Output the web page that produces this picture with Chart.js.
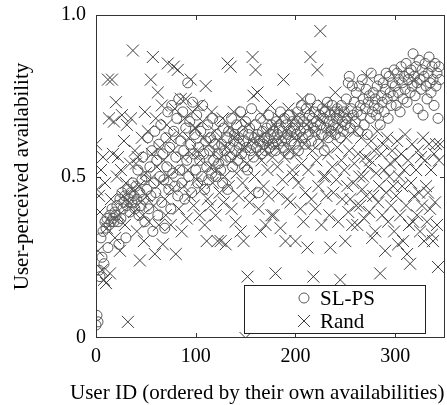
<!DOCTYPE html>
<html>
<head>
<meta charset="utf-8">
<script src="https://cdn.jsdelivr.net/npm/chart.js@4.4.1/dist/chart.umd.min.js"></script>
<style>
  body { margin: 0; background: #fff; }
  canvas { display: block; }
</style>
</head>
<body>
<canvas id="myChart" width="447" height="405"></canvas>
<script>
// values, one per user (user id = index)
var slPs = [
  0.04,0.07,0.05,0.21,0.19,0.31,0.25,0.33,0.23,0.36,0.34,0.37,0.28,0.35,0.38,0.36,0.40,0.37,0.36,0.39,
  0.38,0.41,0.36,0.29,0.43,0.37,0.45,0.40,0.42,0.44,0.31,0.41,0.46,0.43,0.39,0.45,0.42,0.48,0.44,0.40,
  0.47,0.43,0.52,0.38,0.45,0.41,0.49,0.56,0.43,0.36,0.50,0.46,0.62,0.40,0.53,0.44,0.58,0.33,0.48,0.64,
  0.45,0.55,0.38,0.60,0.50,0.66,0.42,0.57,0.49,0.34,0.62,0.53,0.70,0.46,0.59,0.40,0.72,0.51,0.64,0.47,
  0.56,0.68,0.44,0.74,0.52,0.61,0.48,0.70,0.58,0.43,0.65,0.55,0.79,0.50,0.67,0.60,0.45,0.73,0.57,0.63,
  0.52,0.69,0.48,0.59,0.55,0.64,0.50,0.72,0.57,0.46,0.61,0.53,0.66,0.49,0.58,0.62,0.51,0.68,0.55,0.60,
  0.50,0.63,0.57,0.54,0.67,0.52,0.60,0.48,0.65,0.58,0.55,0.62,0.46,0.64,0.59,0.56,0.68,0.53,0.61,0.63,
  0.58,0.66,0.55,0.62,0.60,0.70,0.57,0.64,0.61,0.53,0.67,0.59,0.52,0.63,0.65,0.58,0.71,0.60,0.56,0.62,
  0.66,0.59,0.63,0.45,0.61,0.68,0.57,0.64,0.60,0.62,0.58,0.65,0.61,0.69,0.59,0.63,0.66,0.60,0.64,0.62,
  0.58,0.67,0.63,0.60,0.65,0.70,0.61,0.64,0.59,0.68,0.62,0.66,0.63,0.57,0.69,0.64,0.61,0.67,0.65,0.60,
  0.66,0.63,0.70,0.58,0.68,0.64,0.72,0.62,0.67,0.65,0.60,0.71,0.66,0.63,0.69,0.74,0.61,0.68,0.65,0.70,
  0.64,0.67,0.72,0.60,0.69,0.66,0.63,0.71,0.68,0.58,0.70,0.65,0.73,0.62,0.67,0.69,0.64,0.72,0.66,0.70,
  0.63,0.68,0.71,0.65,0.69,0.62,0.72,0.67,0.64,0.70,0.66,0.74,0.68,0.79,0.81,0.65,0.71,0.78,0.69,0.73,
  0.67,0.76,0.70,0.64,0.78,0.72,0.69,0.80,0.74,0.66,0.71,0.77,0.63,0.73,0.75,0.68,0.82,0.70,0.76,0.72,
  0.74,0.69,0.78,0.71,0.80,0.66,0.75,0.73,0.79,0.70,0.77,0.82,0.74,0.68,0.81,0.76,0.72,0.79,0.75,0.83,
  0.78,0.72,0.82,0.76,0.80,0.70,0.84,0.79,0.74,0.81,0.77,0.85,0.73,0.80,0.82,0.76,0.83,0.78,0.88,0.81,
  0.75,0.84,0.79,0.71,0.86,0.80,0.77,0.83,0.69,0.81,0.85,0.78,0.74,0.82,0.87,0.79,0.76,0.84,0.80,0.72,
  0.85,0.78,0.82,0.68,0.84,0.80
];
var rand = [
  0.60,0.46,0.27,0.44,0.39,0.52,0.21,0.56,0.18,0.48,0.17,0.34,0.80,0.68,0.20,0.43,0.80,0.57,0.67,0.31,
  0.73,0.50,0.56,0.38,0.27,0.52,0.69,0.44,0.61,0.35,0.48,0.66,0.05,0.42,0.54,0.68,0.46,0.89,0.39,0.58,
  0.54,0.33,0.56,0.47,0.24,0.42,0.62,0.38,0.30,0.70,0.51,0.44,0.64,0.36,0.49,0.80,0.57,0.87,0.41,0.26,
  0.68,0.53,0.76,0.35,0.59,0.48,0.72,0.29,0.55,0.43,0.38,0.66,0.85,0.50,0.62,0.35,0.46,0.58,0.84,0.71,
  0.26,0.52,0.83,0.40,0.63,0.74,0.33,0.56,0.47,0.68,0.74,0.37,0.52,0.62,0.44,0.80,0.57,0.70,0.41,0.65,
  0.65,0.49,0.58,0.72,0.38,0.55,0.46,0.67,0.62,0.35,0.78,0.30,0.43,0.60,0.53,0.41,0.70,0.48,0.57,0.64,
  0.38,0.52,0.30,0.61,0.45,0.30,0.56,0.68,0.42,0.50,0.29,0.59,0.85,0.47,0.65,0.84,0.40,0.55,0.70,0.62,
  0.36,0.51,0.63,0.44,0.57,0.33,0.68,0.48,0.30,0.59,0.00,0.54,0.19,0.66,0.42,0.45,0.61,0.87,0.75,0.50,
  0.83,0.57,0.76,0.40,0.62,0.33,0.55,0.69,0.47,0.58,0.35,0.64,0.52,0.44,0.60,0.72,0.38,0.56,0.38,0.66,
  0.20,0.59,0.53,0.45,0.68,0.34,0.61,0.49,0.80,0.56,0.30,0.64,0.43,0.71,0.58,0.42,0.67,0.52,0.50,0.62,
  0.30,0.57,0.69,0.48,0.62,0.40,0.54,0.74,0.36,0.60,0.45,0.66,0.28,0.52,0.71,0.87,0.43,0.58,0.19,0.64,
  0.40,0.55,0.83,0.47,0.68,0.95,0.35,0.61,0.50,0.72,0.50,0.44,0.65,0.57,0.38,0.28,0.63,0.53,0.45,0.70,
  0.76,0.49,0.59,0.36,0.66,0.18,0.55,0.43,0.70,0.52,0.30,0.62,0.47,0.39,0.58,0.43,0.68,0.35,0.48,0.54,
  0.64,0.41,0.35,0.57,0.50,0.41,0.62,0.46,0.50,0.37,0.56,0.44,0.81,0.53,0.39,0.55,0.61,0.31,0.44,0.58,
  0.33,0.51,0.64,0.42,0.47,0.20,0.57,0.38,0.60,0.52,0.27,0.45,0.62,0.36,0.50,0.54,0.41,0.58,0.47,0.33,
  0.55,0.44,0.61,0.29,0.50,0.38,0.57,0.47,0.30,0.52,0.63,0.41,0.26,0.55,0.35,0.23,0.48,0.60,0.36,0.44,
  0.80,0.52,0.38,0.58,0.45,0.33,0.56,0.41,0.62,0.30,0.55,0.47,0.36,0.45,0.60,0.40,0.52,0.32,0.30,0.57,
  0.42,0.60,0.35,0.22,0.55,0.60
];
var xTicks = [0, 100, 200, 300];
var yTicks = [0, 0.5, 1.0];
var yTickLabels = ['0', '0.5', '1.0'];
var xTitle = 'User ID (ordered by their own availabilities)';

var serif = "'Liberation Serif', 'DejaVu Serif', serif";

function toPoints(arr) {
    return arr.map(function (v, i) { return { x: i, y: v }; });
}

// frame, inward tick marks, x title and the boxed legend in the lower right
var framePlugin = {
    id: 'frame',
    afterDraw: function (chart) {
        var ctx = chart.ctx, a = chart.chartArea;
        var xs = chart.scales.x, ys = chart.scales.y;
        ctx.save();
        ctx.strokeStyle = '#333';
        ctx.lineWidth = 1;
        ctx.strokeRect(a.left + 0.5, a.top + 0.5, a.right - a.left - 1, a.bottom - a.top - 1);
        ctx.beginPath();
        xTicks.forEach(function (t) {
            if (t === 0) return;
            var px = Math.round(xs.getPixelForValue(t)) + 0.5;
            ctx.moveTo(px, a.bottom); ctx.lineTo(px, a.bottom - 5);
            ctx.moveTo(px, a.top); ctx.lineTo(px, a.top + 5);
        });
        var py = Math.round(ys.getPixelForValue(0.5)) + 0.5;
        ctx.moveTo(a.left, py); ctx.lineTo(a.left + 5, py);
        ctx.moveTo(a.right, py); ctx.lineTo(a.right - 5, py);
        ctx.stroke();

        // axis title, set a bit left of centre like the original
        ctx.fillStyle = '#000';
        ctx.font = '21px ' + serif;
        ctx.textAlign = 'left';
        ctx.textBaseline = 'middle';
        ctx.fillText(xTitle, a.left - 26, xs.bottom - 12);

        // legend box
        var bw = 181, bh = 48;
        var bx = a.right - 20 - bw, by = a.bottom - 5 - bh;
        ctx.fillStyle = '#fff';
        ctx.fillRect(bx, by, bw, bh);
        ctx.strokeStyle = '#222';
        ctx.strokeRect(bx + 0.5, by + 0.5, bw, bh);
        ctx.font = '21px ' + serif;
        chart.data.datasets.forEach(function (ds, i) {
            var cy = by + 13 + i * 23;
            ctx.strokeStyle = ds.borderColor;
            ctx.fillStyle = 'rgba(0,0,0,0)';
            ctx.lineWidth = 1;
            Chart.helpers.drawPoint(ctx, {
                pointStyle: ds.pointStyle,
                radius: ds.pointRadius,
                rotation: 0,
                borderWidth: 1
            }, bx + 60, cy);
            ctx.fillStyle = '#000';
            ctx.fillText(ds.label, bx + 76, cy + 1);
        });
        ctx.restore();
    }
};

document.addEventListener('DOMContentLoaded', function () {
    var ctx = document.getElementById('myChart').getContext('2d');
    var myChart = new Chart(ctx, {
        type: 'scatter',
        data: {
            datasets: [{
                label: 'SL-PS',
                data: toPoints(slPs),
                pointStyle: 'circle',
                pointRadius: 5,
                borderColor: '#5a5a5a',
                backgroundColor: 'rgba(0,0,0,0)',
                borderWidth: 1
            }, {
                label: 'Rand',
                data: toPoints(rand),
                pointStyle: 'crossRot',
                pointRadius: 8.5,
                borderColor: '#3c3c3c',
                backgroundColor: 'rgba(0,0,0,0)',
                borderWidth: 1
            }]
        },
        options: {
            responsive: false,
            animation: false,
            devicePixelRatio: 1,
            layout: { autoPadding: false, padding: { top: 15, right: 2, left: 0, bottom: 0 } },
            plugins: {
                legend: { display: false },
                tooltip: { enabled: false }
            },
            scales: {
                x: {
                    type: 'linear',
                    min: 0,
                    max: 350,
                    grid: { display: false, drawTicks: false },
                    border: { display: false },
                    afterBuildTicks: function (scale) {
                        scale.ticks = xTicks.map(function (v) { return { value: v }; });
                    },
                    afterFit: function (scale) {
                        scale.height = 67;
                        scale.paddingLeft = 0;
                        scale.paddingRight = 0;
                    },
                    ticks: {
                        color: '#000',
                        padding: 7,
                        maxRotation: 0,
                        font: { family: serif, size: 20 }
                    },
                    title: { display: false }
                },
                y: {
                    min: 0,
                    max: 1,
                    grid: { display: false, drawTicks: false },
                    border: { display: false },
                    afterBuildTicks: function (scale) {
                        scale.ticks = yTicks.map(function (v) { return { value: v }; });
                    },
                    afterFit: function (scale) {
                        scale.width = 96;
                        scale.paddingTop = 0;
                        scale.paddingBottom = 0;
                    },
                    ticks: {
                        color: '#000',
                        padding: 10,
                        font: { family: serif, size: 20 },
                        callback: function (value) {
                            var i = yTicks.indexOf(value);
                            return i >= 0 ? yTickLabels[i] : '';
                        }
                    },
                    title: {
                        display: true,
                        text: 'User-perceived availability',
                        color: '#000',
                        font: { family: serif, size: 21, lineHeight: 1 },
                        padding: { top: 12, bottom: 0 }
                    }
                }
            }
        },
        plugins: [framePlugin]
    });
});
</script>
</body>
</html>
